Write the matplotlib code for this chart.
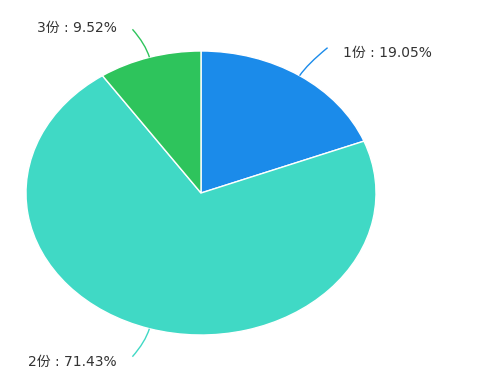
import matplotlib.pyplot as plt
import numpy as np
from matplotlib.path import Path
import matplotlib.patches as mpatches

plt.rcParams['font.family'] = ['DejaVu Sans', 'Noto Sans CJK SC']

# data
labels = ['1份', '2份', '3份']
values = [19.05, 71.43, 9.52]
colors = ['#1b8bea', '#40d9c5', '#2ec45c']

# pie geometry in pixels (the pie is drawn stretched into an ellipse)
cx, cy = 201, 193
rx, ry = 175, 142
W, H = 484, 374

fig = plt.figure(figsize=(W / 100, H / 100), dpi=100)
ax = fig.add_axes([0, 0, 1, 1])

wedges, _ = ax.pie(values, colors=colors, startangle=90, counterclock=False,
                   wedgeprops=dict(edgecolor='white', linewidth=1))

ax.set_aspect('auto')
ax.set_xlim(-cx / rx, (W - cx) / rx)
ax.set_ylim(-(H - cy) / ry, cy / ry)
ax.axis('off')


def px(x, y):
    # pixel coords (y down) -> data coords
    return (x - cx) / rx, (cy - y) / ry


# leader lines and labels
for w, lab, val, col in zip(wedges, labels, values, colors):
    mid = np.radians((w.theta1 + w.theta2) / 2)
    sx, sy = cx + rx * np.cos(mid), cy - ry * np.sin(mid)
    bx, by = cx + (rx + 14) * np.cos(mid), cy - (ry + 14) * np.sin(mid)
    side = 1 if np.cos(mid) >= 0 else -1
    vert = -1 if np.sin(mid) > 0 else 1
    ey = sy + vert * 28
    ex = sx + 28 if side > 0 else sx - 17
    verts = [px(sx, sy), px(bx, by), px(ex, ey)]
    path = Path(verts, [Path.MOVETO, Path.CURVE3, Path.CURVE3])
    ax.add_patch(mpatches.PathPatch(path, fc='none', ec=col, lw=1))
    txt = f'{lab} : {val:.2f}%'
    if side > 0:
        tx, ha = ex + 15, 'left'
    else:
        tx, ha = ex - 16, 'right'
    ty = ey + 5 if (side > 0 or vert > 0) else ey - 1
    ax.text(*px(tx, ty), txt, ha=ha, va='center', fontsize=10, color='#333333')

fig.savefig('out.png', dpi=100)
